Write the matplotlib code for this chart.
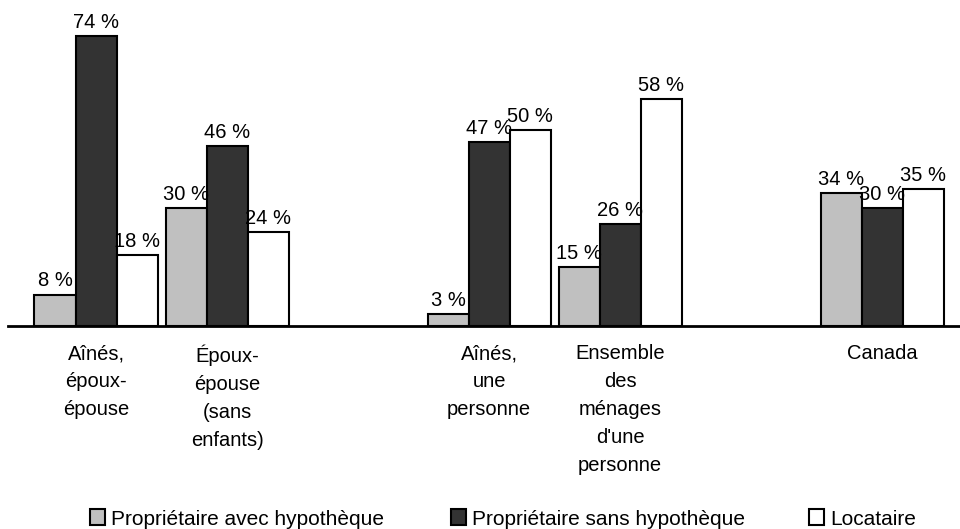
import matplotlib.pyplot as plt
from matplotlib.patches import Patch

plt.rcParams['font.family'] = ['Liberation Sans', 'DejaVu Sans']

# categories (multi-line labels as in the original)
categories = [
    "Aînés,\népoux-\népouse",
    "Époux-\népouse\n(sans\nenfants)",
    "Aînés,\nune\npersonne",
    "Ensemble\ndes\nménages\nd'une\npersonne",
    "Canada",
]
series_names = ["Propriétaire avec hypothèque", "Propriétaire sans hypothèque", "Locataire"]
avec_hyp = [8, 30, 3, 15, 34]
sans_hyp = [74, 46, 47, 26, 30]
locataire = [18, 24, 50, 58, 35]

colors = ["#c0c0c0", "#333333", "#ffffff"]

fig = plt.figure(figsize=(9.6, 5.29), dpi=100)
ax = fig.add_axes([0.0083, 0.3837, 0.9917, 0.5928])

# groups come in pairs with a gap between them
pos = [0, 1, 3, 4, 6]
w = 0.313
offsets = [-w, 0, w]
all_series = [avec_hyp, sans_hyp, locataire]

for s, vals in enumerate(all_series):
    xs = [p + offsets[s] for p in pos]
    bars = ax.bar(xs, vals, width=w, color=colors[s], edgecolor="black", linewidth=1.5)
    for b, v in zip(bars, vals):
        ax.annotate(f"{v} %", (b.get_x() + b.get_width() / 2, v),
                    xytext=(0, 3), textcoords="offset points",
                    ha="center", va="bottom", fontsize=14.5)

ax.set_xlim(-0.672, 6.595)
ax.set_ylim(0, 80)
ax.set_yticks([])
ax.set_xticks(pos)
ax.set_xticklabels(categories, fontsize=14.5, linespacing=1.6, multialignment="center")
ax.tick_params(axis="x", length=0, pad=13)
for sp in ["top", "right", "left"]:
    ax.spines[sp].set_visible(False)
ax.spines["bottom"].set_linewidth(2)

# legend entries laid out by hand
box_x = [90, 451, 809]
for name, c, bx in zip(series_names, colors, box_x):
    h = Patch(facecolor=c, edgecolor="black", linewidth=1.5)
    fig.legend([h], [name], loc="center left", bbox_to_anchor=(bx / 960, 1 - 519 / 529),
               frameon=False, borderpad=0, borderaxespad=0, handlelength=0.7,
               handleheight=0.8, handletextpad=0.3, fontsize=15)

fig.savefig("out.png", dpi=100)
